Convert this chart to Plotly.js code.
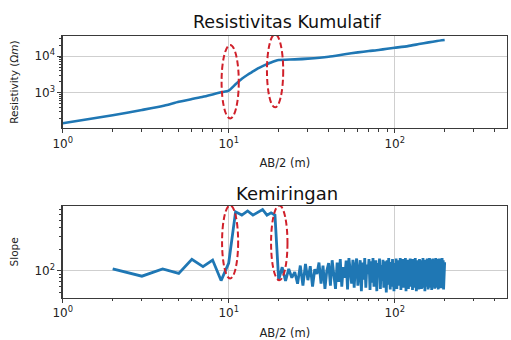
<!DOCTYPE html>
<html>
<head>
<meta charset="utf-8">
<script src="https://cdn.plot.ly/plotly-3.0.1.min.js"></script>
<style>html,body{margin:0;padding:0;background:#fff;}#chart{width:511px;height:340px;}</style>
</head>
<body>
<div id="chart"></div>
<script>
// ---- Data ----
const resAB = [1,2,3,4,5,6,7,8,9,10,11,12,13,14,15,16,17,18,19,20,25,30,40,50,60,70,80,90,100,120,140,160,180,200];
const resValues = [147,245,340,435,570,675,775,900,1030,1150,1700,2400,3100,3800,4600,5300,6000,6700,7300,7800,8100,8500,9600,11200,12600,13700,14600,15800,16800,18600,21200,23600,25700,27300];

const slopeAB = [];
for (let i = 2; i <= 200; i++) slopeAB.push(i);
const slopeValues = [
  106,84,106,92,144,114,141,73,128,
  660,594,680,594,660,712,594,640,594,
  74,
  112,72,106,80,96,66,118,62,124,74,
  116,60,105,90,130,66,118,56,100,128,
  62,140,88,56,130,70,145,60,112,80,
  138,55,150,92,66,142,58,118,148,62,
  96,140,52,130,75,150,58,122,90,145,
  54,135,68,150,60,110,140,52,128,85,
  148,56,120,72,142,58,135,95,50,140,
  64,150,78,55,132,60,145,88,52,128,
  70,148,56,118,140,62,100,150,54,125,
  80,145,58,136,66,150,52,120,92,142,
  56,130,75,148,60,110,138,54,145,70,
  125,58,150,85,52,140,64,132,98,55,
  146,62,118,140,56,128,78,150,58,112,
  136,52,142,70,125,60,148,88,55,138,
  66,150,58,120,95,144,54,132,72,148,
  60,115,140,56,128,82,150,58,136,64,
  145,90,55,130,70,148,60,122,142,57,
  135,76,150,62,118,140,55,128,88,132
];

const xTickVals = [1, 10, 100];
const xTickText = ['10<sup>0</sup>', '10<sup>1</sup>', '10<sup>2</sup>'];
const resTickVals = [1000, 10000];
const resTickText = ['10<sup>3</sup>', '10<sup>4</sup>'];
const slopeTickVals = [100];
const slopeTickText = ['10<sup>2</sup>'];

const xMinor = [2,3,4,5,6,7,8,9,20,30,40,50,60,70,80,90,200,300,400];
const resMinor = [200,300,400,500,600,700,800,900,2000,3000,4000,5000,6000,7000,8000,9000,20000,30000];
const slopeMinor = [50,60,70,80,90,200,300,400,500,600,700,800];

// Highlighted regions (dashed ellipses), in data units: [x0, x1, y0, y1]
const highlightsTop = [[9.06, 11.5, 200, 20000], [17.0, 21.3, 400, 39000]];
const highlightsBottom = [[9.12, 11.4, 78, 810], [18.0, 22.6, 74, 810]];

// ---- Styling ----
const FONT = 'DejaVu Sans, Liberation Sans, sans-serif';
const lineColor = '#1f77b4';
const spine = '#3a3a3a';

function xAxis(anchor) {
  return {
    type: 'log', range: [0, 2.676], domain: [0.1227, 0.992], anchor: anchor,
    tickmode: 'array', tickvals: xTickVals, ticktext: xTickText,
    ticks: 'outside', ticklen: 4, tickwidth: 1, tickcolor: spine,
    minor: {tickmode: 'array', tickvals: xMinor, ticks: 'outside', ticklen: 2.5, tickwidth: 1, tickcolor: spine, showgrid: false},
    showline: true, linecolor: spine, linewidth: 1.2, mirror: true,
    showgrid: true, gridcolor: '#cfcfcf', gridwidth: 1,
    zeroline: false,
    tickfont: {family: FONT, size: 12, color: '#222'},
    title: {text: 'AB/2 (m)', font: {family: FONT, size: 11.5, color: '#222'}, standoff: 9}
  };
}
function yAxis(range, domain, anchor, tv, tt, minor, title) {
  return {
    type: 'log', range: range, domain: domain, anchor: anchor,
    tickmode: 'array', tickvals: tv, ticktext: tt,
    ticks: 'outside', ticklen: 4, tickwidth: 1, tickcolor: spine,
    minor: {tickmode: 'array', tickvals: minor, ticks: 'outside', ticklen: 2.5, tickwidth: 1, tickcolor: spine, showgrid: false},
    showline: true, linecolor: spine, linewidth: 1.2, mirror: true,
    showgrid: true, gridcolor: '#cfcfcf', gridwidth: 1,
    zeroline: false,
    tickfont: {family: FONT, size: 12, color: '#222'},
    title: {text: title, font: {family: FONT, size: 10.5, color: '#222'}, standoff: 13}
  };
}

const traces = [
  {x: resAB, y: resValues, xaxis: 'x', yaxis: 'y', type: 'scatter', mode: 'lines',
   line: {color: lineColor, width: 2.6, shape: 'spline', smoothing: 0.5}, hoverinfo: 'skip'},
  {x: slopeAB, y: slopeValues, xaxis: 'x2', yaxis: 'y2', type: 'scatter', mode: 'lines',
   line: {color: lineColor, width: 2.8}, hoverinfo: 'skip'}
];

const shapes = [];
function addEllipses(list, xr, yr) {
  list.forEach(h => shapes.push({
    type: 'circle', xref: xr, yref: yr,
    x0: h[0], x1: h[1], y0: h[2], y1: h[3],
    line: {color: '#d0202a', width: 2, dash: '6px,3px'}, layer: 'above'
  }));
}
addEllipses(highlightsTop, 'x', 'y');
addEllipses(highlightsBottom, 'x2', 'y2');

const layout = {
  width: 511, height: 340,
  margin: {l: 0, r: 0, t: 0, b: 0},
  paper_bgcolor: '#ffffff', plot_bgcolor: '#ffffff',
  showlegend: false,
  xaxis: xAxis('y'),
  yaxis: yAxis([2.04, 4.545], [0.6235, 0.894], 'x', resTickVals, resTickText, resMinor, 'Resistivity (Ω<i>m</i>)'),
  xaxis2: xAxis('y2'),
  yaxis2: yAxis([1.625, 2.90], [0.1244, 0.394], 'x2', slopeTickVals, slopeTickText, slopeMinor, 'Slope'),
  shapes: shapes,
  annotations: [
    {text: 'Resistivitas Kumulatif', xref: 'paper', yref: 'paper', x: 0.5626, y: 0.935,
     xanchor: 'center', yanchor: 'middle', showarrow: false, font: {family: FONT, size: 17.5, color: '#111'}},
    {text: 'Kemiringan', xref: 'paper', yref: 'paper', x: 0.5626, y: 0.432,
     xanchor: 'center', yanchor: 'middle', showarrow: false, font: {family: FONT, size: 18, color: '#111'}}
  ]
};

Plotly.newPlot('chart', traces, layout, {staticPlot: true, displayModeBar: false});
</script>
</body>
</html>
